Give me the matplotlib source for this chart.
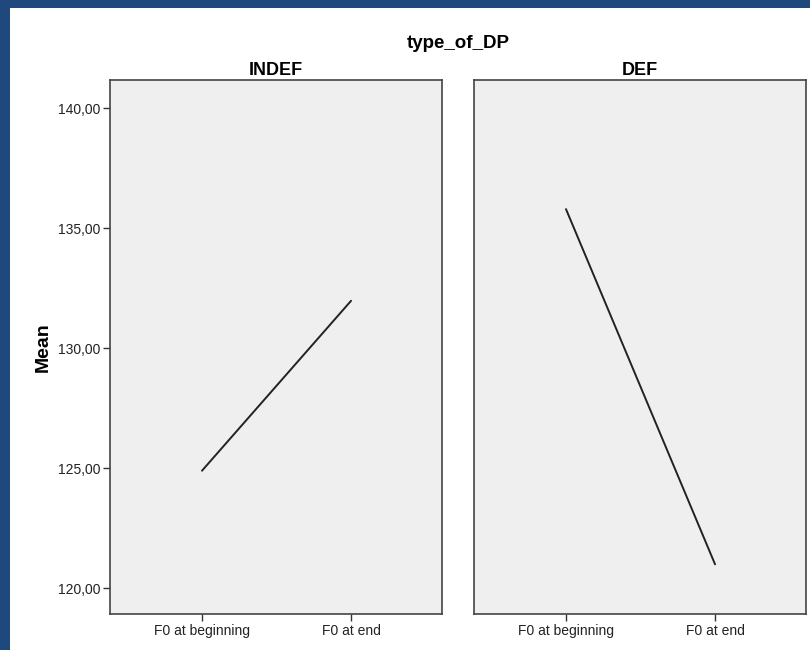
import matplotlib
matplotlib.use("Agg")
import matplotlib.pyplot as plt
from matplotlib.patches import Rectangle
from matplotlib.ticker import FixedLocator, FuncFormatter

plt.rcParams['font.family'] = ['Liberation Sans', 'DejaVu Sans']

panels = ["INDEF", "DEF"]
categories = ["F0 at beginning", "F0 at end"]
means = {
    "INDEF": [124.89, 131.97],
    "DEF": [135.79, 120.99],
}
yticks = [120, 125, 130, 135, 140]

W, H = 810, 650
fig = plt.figure(figsize=(W / 100, H / 100), dpi=100)
fig.patch.set_facecolor("white")

# blue frame at left and top
fig.patches.append(Rectangle((0, 0), 10 / W, 1, transform=fig.transFigure,
                             facecolor="#1F497D", edgecolor="none", zorder=10))
fig.patches.append(Rectangle((0, 1 - 8 / H), 1, 8 / H, transform=fig.transFigure,
                             facecolor="#1F497D", edgecolor="none", zorder=10))

lefts = [110, 474]
pw, top, bot = 332, 80, 614
axes = []
for i, (name, left) in enumerate(zip(panels, lefts)):
    ax = fig.add_axes([left / W, 1 - bot / H, pw / W, (bot - top) / H])
    ax.set_facecolor("#EFEFEF")
    x = list(range(len(categories)))
    ax.plot(x, means[name], color="#222222", lw=1.4, solid_capstyle="round")
    ax.set_xlim(-0.617, 1.61)
    ax.set_ylim(118.92, 141.17)
    ax.set_xticks(x)
    ax.set_xticklabels(categories, fontsize=10)
    ax.yaxis.set_major_locator(FixedLocator(yticks))
    ax.yaxis.set_major_formatter(FuncFormatter(lambda v, p: f"{v:.2f}".replace(".", ",")))
    ax.tick_params(axis="both", direction="out", length=5, width=1, color="#333333",
                   labelsize=10, pad=2, labelcolor="#222222")
    if i == 1:
        ax.tick_params(axis="y", left=False, labelleft=False)
    for s in ax.spines.values():
        s.set_color("#444444")
        s.set_linewidth(1.2)
    ax.set_title(name, fontsize=13, fontweight="bold", pad=3.5)
    axes.append(ax)

fig.text(458 / W, 1 - 48 / H, "type_of_DP", ha="center", va="baseline",
         fontsize=13.5, fontweight="bold")
fig.text(48 / W, 1 - 347.5 / H, "Mean", ha="center", va="baseline", rotation=90,
         rotation_mode="anchor", fontsize=14, fontweight="bold")

fig.savefig("out.png", dpi=100)
